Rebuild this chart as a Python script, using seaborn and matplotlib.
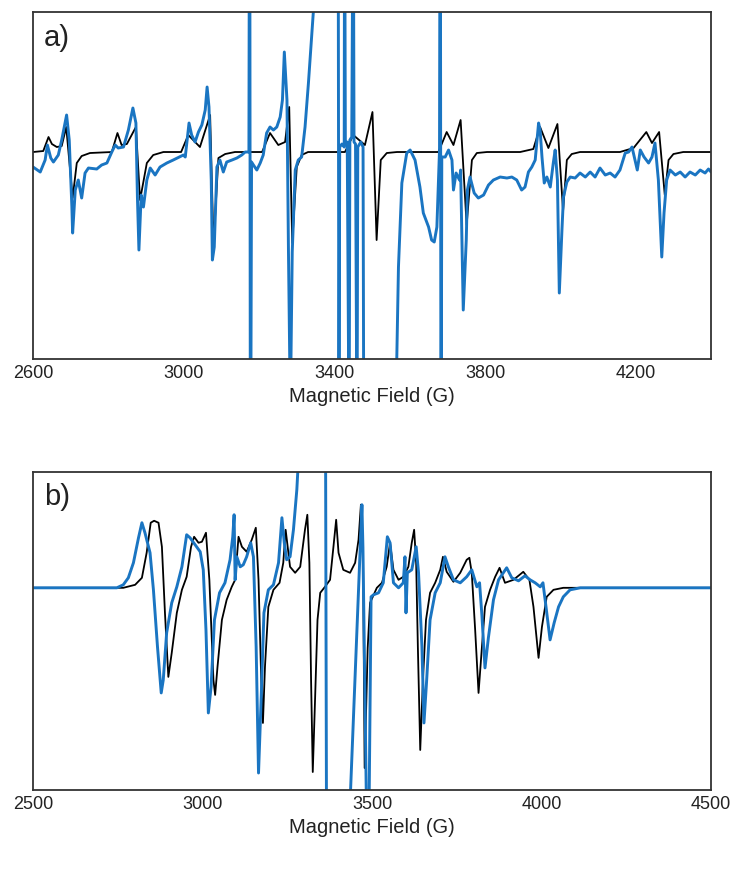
import matplotlib
matplotlib.use('Agg')
from matplotlib import pyplot as plt
import pandas as pd
import seaborn as sns

# panel a) simulated (black) and experimental (blue) spectra, field in G, signal in arb. units
a_sim_field = [2600, 2627, 2641, 2650, 2663, 2676, 2688, 2705, 2716, 2729, 2751, 2809, 2824, 2835, 2849,
               2873, 2884, 2902, 2919, 2946, 2993, 3012, 3043, 3070, 3079, 3092, 3110, 3136, 3208, 3229,
               3251, 3269, 3280, 3288, 3300, 3313, 3330, 3428, 3450, 3481, 3501, 3512, 3523, 3539, 3566,
               3676, 3698, 3716, 3735, 3751, 3765, 3778, 3805, 3893, 3928, 3946, 3968, 3992, 4007, 4017,
               4030, 4052, 4158, 4194, 4228, 4243, 4262, 4277, 4287, 4300, 4326, 4400]
a_sim_signal = [0, 1, 15, 8, 5, 6, 25, -46, -11, -4, -1, 0, 19, 7, 8,
                25, -48, -11, -3, 0, 0, 17, 5, 37, -93, -6, -2, 0, 0, 19,
                7, 10, 45, -91, -15, -3, 0, 0, 17, 7, 40, -88, -8, -1, 0,
                0, 20, 7, 32, -73, -8, -1, 0, 0, 3, 25, 4, 28, -59, -8,
                -2, 0, 0, 4, 20, 9, 20, -43, -8, -2, 0, 0]

a_exp_field = [2600, 2619, 2632, 2638, 2647, 2654, 2667, 2676, 2689, 2696, 2703, 2705, 2712, 2720, 2729,
               2738, 2747, 2769, 2782, 2796, 2809, 2818, 2826, 2840, 2853, 2865, 2873, 2877, 2881, 2887,
               2893, 2902, 2911, 2924, 2937, 2955, 2972, 2999, 3004, 3014, 3021, 3030, 3039, 3048, 3057,
               3062, 3067, 3073, 3076, 3081, 3088, 3096, 3105, 3114, 3128, 3141, 3154, 3163, 3173, 3175,
               3177, 3180, 3185, 3194, 3203, 3211, 3220, 3229, 3238, 3247, 3256, 3262, 3267, 3274, 3278,
               3283, 3288, 3296, 3304, 3313, 3322, 3331, 3340, 3344, 3350, 3410, 3412, 3414, 3420, 3426,
               3427, 3429, 3434, 3439, 3441, 3446, 3450, 3452, 3456, 3460, 3462, 3470, 3476, 3478, 3561,
               3570, 3579, 3592, 3601, 3614, 3627, 3636, 3650, 3658, 3665, 3672, 3679, 3681, 3683, 3685,
               3694, 3703, 3712, 3716, 3723, 3732, 3735, 3742, 3750, 3753, 3760, 3771, 3782, 3796, 3809,
               3822, 3840, 3858, 3871, 3884, 3897, 3906, 3915, 3924, 3933, 3942, 3946, 3951, 3957, 3964,
               3973, 3981, 3986, 3992, 3997, 4004, 4008, 4017, 4026, 4039, 4052, 4066, 4079, 4092, 4105,
               4119, 4132, 4145, 4158, 4172, 4181, 4190, 4198, 4204, 4212, 4222, 4234, 4243, 4251, 4260,
               4269, 4275, 4282, 4291, 4305, 4318, 4331, 4344, 4358, 4371, 4384, 4393, 4400]
a_exp_signal = [-15, -20, -8, 7, -6, -10, -3, 12, 37, 12, -55, -81, -38, -28, -46,
                -21, -16, -17, -13, -11, 0, 7, 4, 5, 22, 44, 29, -45, -98, -43,
                -55, -28, -16, -23, -15, -11, -8, -3, -5, 29, 17, 10, 20, 27, 42,
                65, 45, -28, -108, -95, -15, -8, -20, -10, -8, -6, -3, 0, 0, 400,
                -400, -10, -13, -18, -11, -3, 19, 25, 22, 25, 35, 52, 100, 52, -100,
                -260, -100, -18, -8, -5, 25, 69, 119, 140, 250, 250, -300, 5, 8, 5,
                300, 8, 10, -300, 12, 15, 300, 10, 8, -300, 5, 10, 5, -300, -300,
                -115, -31, -1, 2, -8, -35, -61, -75, -88, -90, -75, 2, 400, -400, -5,
                -5, 2, -8, -38, -21, -28, -18, -158, -88, -38, -25, -41, -46, -43, -33,
                -28, -25, -26, -25, -28, -38, -35, -20, -15, -8, 29, 22, -5, -31, -25,
                -35, -11, 2, -28, -141, -78, -45, -30, -25, -26, -21, -25, -20, -25, -16,
                -23, -21, -25, -18, -1, 0, 5, -8, -18, 2, -5, -11, -5, 9, -28,
                -105, -61, -28, -18, -23, -20, -25, -20, -23, -18, -21, -17, -20]

# panel b)
b_sim_field = [2500, 2766, 2801, 2821, 2835, 2847, 2857, 2870, 2880, 2889, 2899, 2909, 2924, 2939, 2953,
               2966, 2975, 2988, 2998, 3010, 3020, 3032, 3037, 3044, 3057, 3071, 3086, 3096, 3106, 3116,
               3130, 3145, 3157, 3165, 3173, 3178, 3184, 3194, 3209, 3227, 3238, 3245, 3258, 3273, 3288,
               3302, 3309, 3315, 3320, 3325, 3332, 3339, 3347, 3361, 3376, 3386, 3394, 3401, 3415, 3435,
               3450, 3460, 3467, 3473, 3478, 3487, 3494, 3514, 3529, 3543, 3553, 3563, 3578, 3592, 3607,
               3617, 3624, 3630, 3635, 3642, 3650, 3659, 3671, 3686, 3701, 3709, 3720, 3740, 3760, 3779,
               3787, 3794, 3804, 3814, 3824, 3833, 3848, 3863, 3876, 3892, 3917, 3946, 3964, 3976, 3991,
               4001, 4015, 4035, 4064, 4500]
b_sim_signal = [0, 0, 3, 10, 35, 65, 67, 65, 41, -25, -89, -65, -25, -2, 11,
                41, 51, 45, 46, 55, 8, -92, -107, -79, -32, -12, 1, 8, 51, 41,
                36, 48, 60, 8, -92, -135, -79, -19, -2, 5, 25, 58, 21, 15, 21,
                58, 73, 25, -92, -184, -109, -32, -5, 1, 8, 41, 68, 35, 18, 15,
                25, 48, 83, 41, -180, -60, -15, 0, 5, 21, 45, 18, 8, 11, 21,
                45, 58, 25, -59, -162, -92, -32, -5, 5, 18, 31, 16, 6, 15, 28,
                30, 15, -42, -105, -59, -19, -2, 11, 20, 5, 8, 16, 8, -19, -70,
                -39, -9, -2, 0, 0]

b_exp_field = [2500, 2747, 2766, 2781, 2796, 2811, 2821, 2830, 2845, 2855, 2867, 2878, 2884, 2894, 2909,
               2924, 2939, 2953, 2963, 2978, 2993, 3002, 3010, 3017, 3025, 3035, 3050, 3066, 3081, 3089,
               3093, 3096, 3101, 3111, 3120, 3130, 3142, 3150, 3158, 3165, 3173, 3181, 3194, 3209, 3224,
               3234, 3241, 3248, 3258, 3268, 3278, 3283, 3290, 3362, 3366, 3425, 3470, 3473, 3485, 3490,
               3497, 3504, 3519, 3533, 3545, 3553, 3563, 3578, 3592, 3597, 3600, 3604, 3617, 3630, 3637,
               3647, 3653, 3661, 3671, 3686, 3701, 3715, 3725, 3740, 3760, 3779, 3794, 3809, 3817, 3824,
               3833, 3843, 3858, 3873, 3887, 3897, 3912, 3932, 3951, 3966, 3981, 3996, 4004, 4013, 4025,
               4037, 4050, 4064, 4084, 4114, 4500]
b_exp_signal = [0, 0, 3, 10, 25, 50, 65, 55, 35, -2, -59, -105, -92, -45, -15,
                1, 21, 53, 50, 43, 36, 18, -42, -125, -99, -32, -5, 5, 28, 51,
                73, 8, 31, 21, 23, 31, 45, 31, -59, -185, -109, -25, -2, 3, 25,
                70, 45, 28, 31, 58, 98, 130, 250, 250, -300, -300, 83, 40, -260, -260,
                -9, -7, -5, 5, 51, 45, 5, 0, 5, 31, -25, 15, 18, 41, 15,
                -59, -135, -92, -32, -5, 5, 31, 21, 8, 5, 11, 18, 1, 5, -28,
                -80, -50, -12, 8, 15, 20, 10, 7, 12, 8, 5, 1, 5, -19, -52,
                -35, -19, -9, -2, 0, 0]

panels = [
    ('a)', a_sim_field, a_sim_signal, a_exp_field, a_exp_signal,
     (2600, 4400), [2600, 3000, 3400, 3800, 4200], (-207, 140)),
    ('b)', b_sim_field, b_sim_signal, b_exp_field, b_exp_signal,
     (2500, 4500), [2500, 3000, 3500, 4000, 4500], (-202, 116)),
]

sns.set_style('white')
plt.rcParams['font.family'] = ['Liberation Sans', 'DejaVu Sans']

fig = plt.figure(figsize=(7.35, 8.83), dpi=100)
boxes = [[0.045, 0.5934, 0.9225, 0.393], [0.045, 0.1053, 0.9225, 0.3605]]

for box, (tag, sx, sy, ex, ey, xlim, xticks, ylim) in zip(boxes, panels):
    ax = fig.add_axes(box)
    sim = pd.DataFrame({'field': sx, 'signal': sy})
    exp = pd.DataFrame({'field': ex, 'signal': ey})
    sns.lineplot(data=sim, x='field', y='signal', ax=ax, color='black', linewidth=1.3,
                 estimator=None, sort=False)
    sns.lineplot(data=exp, x='field', y='signal', ax=ax, color='#1a75c2', linewidth=2.1,
                 estimator=None, sort=False)
    ax.set_xlim(*xlim)
    ax.set_ylim(*ylim)
    ax.set_xticks(xticks)
    ax.set_yticks([])
    ax.set_ylabel('')
    ax.set_xlabel('Magnetic Field (G)', fontsize=14.5, color='#222222', labelpad=4)
    ax.tick_params(axis='x', length=0, pad=4, labelsize=13, colors='#222222')
    for sp in ax.spines.values():
        sp.set_color('#333333')
        sp.set_linewidth(1.3)
    ax.text(0.016, 0.965, tag, transform=ax.transAxes, fontsize=21, va='top', ha='left',
            color='#222222')

plt.savefig('out.png', dpi=100)
